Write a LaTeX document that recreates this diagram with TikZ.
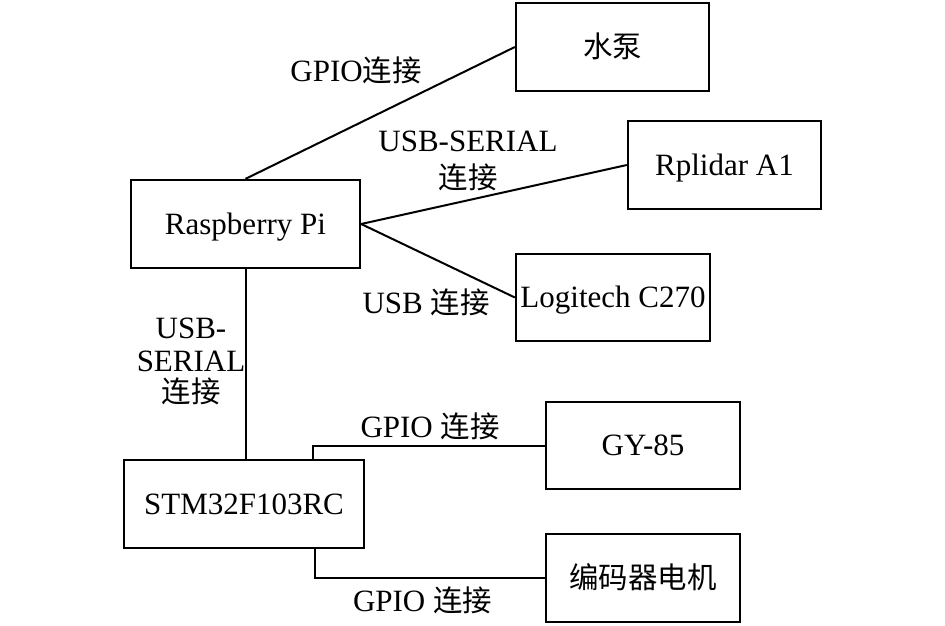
\documentclass[tikz,border=0pt]{standalone}
\usepackage{fontspec}
\setmainfont{Liberation Serif}
\newfontfamily\cjk{Noto Sans CJK SC}[Scale=0.95]
\usetikzlibrary{calc}
\begin{document}
\begin{tikzpicture}[x=1pt,y=-1pt,
  box/.style={draw,line width=2.3pt,inner sep=0pt,text height=20.5pt,text depth=0pt,
    font=\fontsize{31}{36}\selectfont},
  lbl/.style={anchor=base,inner sep=0pt,font=\fontsize{31}{36}\selectfont},
  conn/.style={line width=2pt}]
\useasboundingbox (0,0) rectangle (945,626);
% boxes
\node[box,minimum width=193pt,minimum height=88pt] (pump) at (612.5,47) {\cjk 水泵};
\node[box,minimum width=193pt,minimum height=88pt] (lidar) at (724.5,165) {Rplidar A1};
\node[box,minimum width=229pt,minimum height=88pt] (rpi) at (245.5,224) {Raspberry Pi};
\node[box,minimum width=194pt,minimum height=87pt] (cam) at (613,297.5) {Logitech C270};
\node[box,minimum width=194pt,minimum height=87pt] (gy) at (643,445.5) {GY-85};
\node[box,minimum width=240pt,minimum height=88pt] (stm) at (244,504) {STM32F103RC};
\node[box,minimum width=194pt,minimum height=88pt] (motor) at (643,578) {\cjk 编码器电机};
% connectors
\draw[conn] (rpi.north) -- (pump.west);
\draw[conn] (rpi.east) -- (lidar.west);
\draw[conn] (rpi.east) -- (cam.west);
\draw[conn] (rpi.south) -- (rpi.south |- stm.north);
\coordinate (s1) at ($(stm.north west)!0.786!(stm.north east)$);
\coordinate (s2) at ($(stm.south west)!0.795!(stm.south east)$);
\draw[conn] (s1) |- (gy.west);
\draw[conn] (s2) |- (motor.west);
% labels
\node[lbl] (l1) at (356,81.7) {GPIO{\cjk 连接}};
\node[lbl] (l2a) at (468,151.5) {USB-SERIAL};
\node[lbl] (l2b) at (468,188.5) {\cjk 连接};
\node[lbl] (l3) at (426,313) {USB {\cjk 连接}};
\node[lbl] (l4a) at (191,338) {USB-};
\node[lbl] (l4b) at (191,371.5) {SERIAL};
\node[lbl] (l4c) at (191,402.5) {\cjk 连接};
\node[lbl] (l5) at (430,437) {GPIO {\cjk 连接}};
\node[lbl] (l6) at (422.5,611.5) {GPIO {\cjk 连接}};
\end{tikzpicture}
\end{document}
